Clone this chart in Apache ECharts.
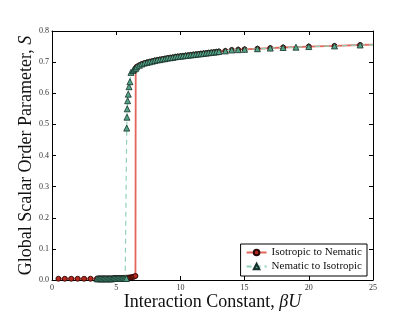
<!DOCTYPE html>
<html><head><meta charset="utf-8">
<script src="https://cdn.jsdelivr.net/npm/echarts@6/dist/echarts.min.js"></script>
<style>html,body{margin:0;padding:0;background:#fff}#c{width:415px;height:312px}</style>
</head><body><div id="c"></div>
<script>
// Isotropic to Nematic
const isoX = [0.5,1.0,1.5,2.0,2.5,3.0,3.5,3.6,3.7,3.8,3.9,4.0,4.1,4.2,4.3,4.4,4.5,4.6,4.7,4.8,4.9,5.0,5.1,5.2,5.3,5.4,5.5,5.6,5.7,5.8,5.9,6.0,6.1,6.2,6.3,6.4,6.5,
  6.52,6.6,6.8,7.0,7.2,7.4,7.6,7.8,8.0,8.2,8.4,8.6,8.8,9.0,9.2,9.4,9.6,9.8,10.0,10.2,10.4,10.6,10.8,11.0,11.2,11.4,11.6,11.8,12.0,12.2,12.4,12.6,12.8,13.0,13.5,14.0,14.5,15.0,16.0,17.0,18.0,20.0,22.0,24.0];
const isoS = [0.004,0.004,0.004,0.004,0.004,0.004,0.004,0.005,0.005,0.005,0.005,0.005,0.005,0.005,0.005,0.005,0.005,0.005,0.005,0.006,0.006,0.006,0.006,0.006,0.006,0.006,0.006,0.007,0.007,0.007,0.007,0.008,0.008,0.009,0.010,0.011,0.013,
  0.680,0.685,0.690,0.694,0.697,0.699,0.701,0.703,0.705,0.707,0.708,0.710,0.711,0.713,0.714,0.715,0.717,0.718,0.719,0.720,0.721,0.722,0.723,0.724,0.725,0.726,0.727,0.728,0.729,0.730,0.731,0.732,0.733,0.734,0.736,0.739,0.740,0.741,0.743,0.745,0.747,0.750,0.752,0.755];
// Nematic to Isotropic
const nemX = [3.5,3.6,3.7,3.8,3.9,4.0,4.1,4.2,4.3,4.4,4.5,4.6,4.7,4.8,4.9,5.0,5.1,5.2,5.3,5.4,5.5,5.6,5.7,5.8,
  5.82,5.84,5.86,5.89,5.94,6.0,6.07,6.15,6.3,6.4,
  6.52,6.6,6.8,7.0,7.2,7.4,7.6,7.8,8.0,8.2,8.4,8.6,8.8,9.0,9.2,9.4,9.6,9.8,10.0,10.2,10.4,10.6,10.8,11.0,11.2,11.4,11.6,11.8,12.0,12.2,12.4,12.6,12.8,13.0,13.5,14.0,14.5,15.0,16.0,17.0,18.0,19.0,20.0,22.0,24.0];
const nemS = [0.004,0.004,0.004,0.004,0.004,0.004,0.004,0.004,0.004,0.004,0.004,0.004,0.004,0.005,0.005,0.005,0.005,0.005,0.005,0.005,0.005,0.005,0.005,0.005,
  0.488,0.523,0.550,0.576,0.597,0.621,0.637,0.667,0.673,0.677,
  0.680,0.685,0.690,0.694,0.697,0.699,0.701,0.703,0.705,0.707,0.708,0.710,0.711,0.713,0.714,0.715,0.717,0.718,0.719,0.720,0.721,0.722,0.723,0.724,0.725,0.726,0.727,0.728,0.729,0.730,0.731,0.732,0.733,0.734,0.736,0.739,0.740,0.741,0.743,0.745,0.747,0.748,0.750,0.752,0.755];
const xTicks = [0,5,10,15,20,25];
const yTicks = [0.0,0.1,0.2,0.3,0.4,0.5,0.6,0.7,0.8];

const serif = 'Liberation Serif';
const zip = (xs, ys) => xs.map((x,i)=>[x, ys[i]]);
const isoData = zip(isoX, isoS); isoData.push({value:[25,0.756], symbol:'none'});
const nemData = zip(nemX, nemS); nemData.push({value:[25,0.756], symbol:'none'});

const chart = echarts.init(document.getElementById('c'), null, {renderer:'canvas'});
const tickStyle = {show:true, inside:true, length:4, lineStyle:{color:'#000', width:1}};
const lineStyleAx = {show:true, onZero:false, lineStyle:{color:'#000', width:1}};
const titleRich = {n:{fontFamily:serif, fontSize:18, color:'#111'}, i:{fontFamily:serif, fontStyle:'italic', fontSize:18, color:'#111'}};
chart.setOption({
  animation:false,
  backgroundColor:'#fff',
  grid:{left:52, right:42, top:31, bottom:32, containLabel:false, outerBoundsMode:'none'},
  xAxis:[{
    type:'value', min:xTicks[0], max:xTicks[xTicks.length-1], interval:5, position:'bottom',
    axisLine:lineStyleAx, axisTick:tickStyle, splitLine:{show:false},
    axisLabel:{fontFamily:serif, fontSize:8, color:'#333', margin:4},
    name:'{n|Interaction Constant, }{i|βU}', nameLocation:'middle', nameGap:13, nameMoveOverlap:false,
    nameTextStyle:{rich:titleRich}
  },{
    type:'value', min:0, max:25, interval:5, position:'top',
    axisLine:lineStyleAx, axisTick:tickStyle, axisLabel:{show:false}, splitLine:{show:false}
  }],
  yAxis:[{
    type:'value', min:yTicks[0], max:yTicks[yTicks.length-1], interval:0.1, position:'left',
    axisLine:lineStyleAx, axisTick:tickStyle, splitLine:{show:false},
    axisLabel:{fontFamily:serif, fontSize:8, color:'#333', margin:3, formatter:v=>v.toFixed(1)},
    name:'{n|Global Scalar Order Parameter, }{i|S}', nameLocation:'middle', nameGap:17, nameRotate:90, nameMoveOverlap:false,
    nameTextStyle:{rich:titleRich}
  },{
    type:'value', min:0, max:0.8, interval:0.1, position:'right',
    axisLine:lineStyleAx, axisTick:tickStyle, axisLabel:{show:false}, splitLine:{show:false}
  }],
  legend:{
    right:48, bottom:36, orient:'vertical', itemGap:3, itemWidth:20, itemHeight:7,
    padding:[3,5,4,5], borderColor:'#000', borderWidth:1, backgroundColor:'#fff',
    textStyle:{fontFamily:serif, fontSize:11, color:'#111'},
    data:['Isotropic to Nematic','Nematic to Isotropic']
  },
  series:[{
    name:'Isotropic to Nematic', type:'line', xAxisIndex:0, yAxisIndex:0, data:isoData,
    symbol:'circle', symbolSize:5, showSymbol:true, z:2,
    lineStyle:{color:'#e2675a', width:1.8},
    itemStyle:{color:'#b8281e', borderColor:'#2a0805', borderWidth:0.9}
  },{
    name:'Nematic to Isotropic', type:'line', xAxisIndex:0, yAxisIndex:0, data:nemData,
    symbol:'triangle', symbolSize:6, showSymbol:true, z:3,
    lineStyle:{color:'#8fd1b8', width:1.2, type:[5,4]},
    itemStyle:{color:'#56a487', borderColor:'#14302a', borderWidth:0.8}
  }]
});
</script></body></html>
